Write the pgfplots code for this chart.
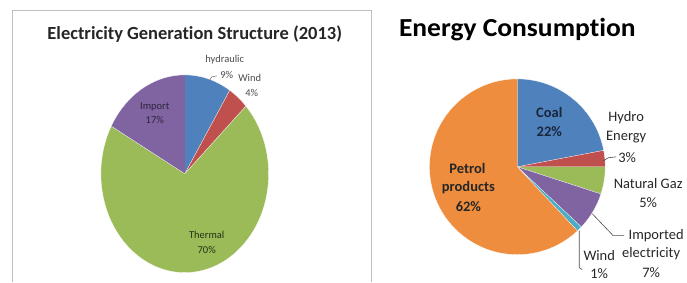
\documentclass[border=0pt]{standalone}
\usepackage{pgfplots}
\pgfplotsset{compat=1.18}
\usepackage{fontspec}
\setmainfont{Carlito}[Ligatures={NoCommon}]
\definecolor{cblue}{HTML}{4F81BD}
\definecolor{cred}{HTML}{C0504D}
\definecolor{cgreen}{HTML}{9BBB59}
\definecolor{cpurple}{HTML}{8064A2}
\definecolor{ccyan}{HTML}{4BACC6}
\definecolor{corange}{HTML}{EE8D3E}
\definecolor{ctext}{HTML}{262626}
% wedge of an ellipse centred at (#1,#2), radii #3,#4, from #5 % to #6 % clockwise from the top
\newcommand\mkwedge[6]{%
  \pgfmathsetmacro\wS{#5*3.6}%
  \pgfmathsetmacro\wE{#6*3.6}%
  \pgfmathtruncatemacro\wN{max(2,ceil((\wE-\wS)/2))}%
  \pgfmathsetmacro\wD{(\wE-\wS)/\wN}%
  \xdef\wc{(#1,#2)}%
  \foreach \k in {0,...,\wN}{%
    \pgfmathsetmacro\wT{\wS+\wD*\k}%
    \pgfmathsetmacro\wX{#1+#3*sin(\wT)}%
    \pgfmathsetmacro\wY{#2-#4*cos(\wT)}%
    \xdef\wc{\wc (\wX,\wY)}%
  }%
}
\newcommand\pieslice[7]{%
  \mkwedge{#1}{#2}{#3}{#4}{#5}{#6}%
  \edef\tmp{\noexpand\addplot[fill=#7, draw=white, line width=0.3pt] coordinates {\wc};}%
  \tmp}
\begin{document}
\begin{tikzpicture}
\begin{axis}[width=687pt,height=282pt,scale only axis,hide axis,
  xmin=0,xmax=687,ymin=0,ymax=282,y dir=reverse,clip=false]
\path (rel axis cs:0,0) rectangle (rel axis cs:1,1);
% frame of left chart
\addplot[color=black!25, line width=0.8pt] coordinates {(12,282) (12,10) (372,10) (372,282)};
% ---- Left pie: Electricity Generation Structure (2013)
% hydraulic 9, Wind 4, Thermal 70, Import 17
\pieslice{185}{174}{84}{99}{0}{9}{cblue}
\pieslice{185}{174}{84}{99}{9}{13}{cred}
\pieslice{185}{174}{84}{99}{13}{83}{cgreen}
\pieslice{185}{174}{84}{99}{83}{100}{cpurple}
\node[font=\bfseries\fontsize{18.5}{21}\selectfont, text=ctext, anchor=base] at (axis cs:195,40) {Electricity Generation Structure (2013)};
\begin{scope}[every node/.style={font=\fontsize{10.5}{12}\selectfont, text=black!70}]
\node at (axis cs:225,60) {hydraulic};
\node at (axis cs:227,75) {9\%};
\node at (axis cs:250,78) {Wind};
\node at (axis cs:252,93) {4\%};
\node[text=cpurple!35!black] at (axis cs:155,107) {Import};
\node[text=cpurple!35!black] at (axis cs:155,120) {17\%};
\node[text=cgreen!25!black] at (axis cs:207,235) {Thermal};
\node[text=cgreen!25!black] at (axis cs:207,250) {70\%};
\end{scope}
\addplot[color=black!60, line width=0.5pt] coordinates {(210,80) (212,77) (217,76)};
% ---- Right pie: Energy Consumption
% Coal 22, Hydro 3, Natural Gaz 5, Imported electricity 7, Wind 1, Petrol products 62
\pieslice{518}{167}{88}{88}{0}{22}{cblue}
\pieslice{518}{167}{88}{88}{22}{25}{cred}
\pieslice{518}{167}{88}{88}{25}{30}{cgreen}
\pieslice{518}{167}{88}{88}{30}{37}{cpurple}
\pieslice{518}{167}{88}{88}{37}{38}{ccyan}
\pieslice{518}{167}{88}{88}{38}{100}{corange}
\node[font=\bfseries\fontsize{26}{30}\selectfont, text=black, anchor=base, xscale=1.06] at (axis cs:518,37) {Energy Consumption};
\begin{scope}[every node/.style={font=\bfseries\fontsize{14.5}{16}\selectfont, align=center}]
\node[text=cblue!30!black] at (axis cs:550,113) {Coal};
\node[text=cblue!30!black] at (axis cs:550,132) {22\%};
\node[text=ctext] at (axis cs:468,169) {Petrol};
\node[text=ctext] at (axis cs:469,188) {products};
\node[text=ctext] at (axis cs:469,207) {62\%};
\end{scope}
\begin{scope}[every node/.style={font=\fontsize{14.5}{16}\selectfont, text=ctext}]
\node at (axis cs:627,118) {Hydro};
\node at (axis cs:627,137) {Energy};
\node at (axis cs:628,158) {3\%};
\node at (axis cs:649,184) {Natural Gaz};
\node at (axis cs:649,203) {5\%};
\node at (axis cs:657,236) {Imported};
\node at (axis cs:652,254) {electricity};
\node at (axis cs:652,273) {7\%};
\node at (axis cs:600,256) {Wind};
\node at (axis cs:600,274) {1\%};
\end{scope}
\addplot[color=black!70, line width=0.6pt] coordinates {(604,161) (609,158) (617,157)};
\addplot[color=black!70, line width=0.6pt] coordinates {(593,214) (614,236) (625,236)};
\addplot[color=black!70, line width=0.6pt] coordinates {(580,231) (580,268) (583,270)};
\end{axis}
\end{tikzpicture}
\end{document}
